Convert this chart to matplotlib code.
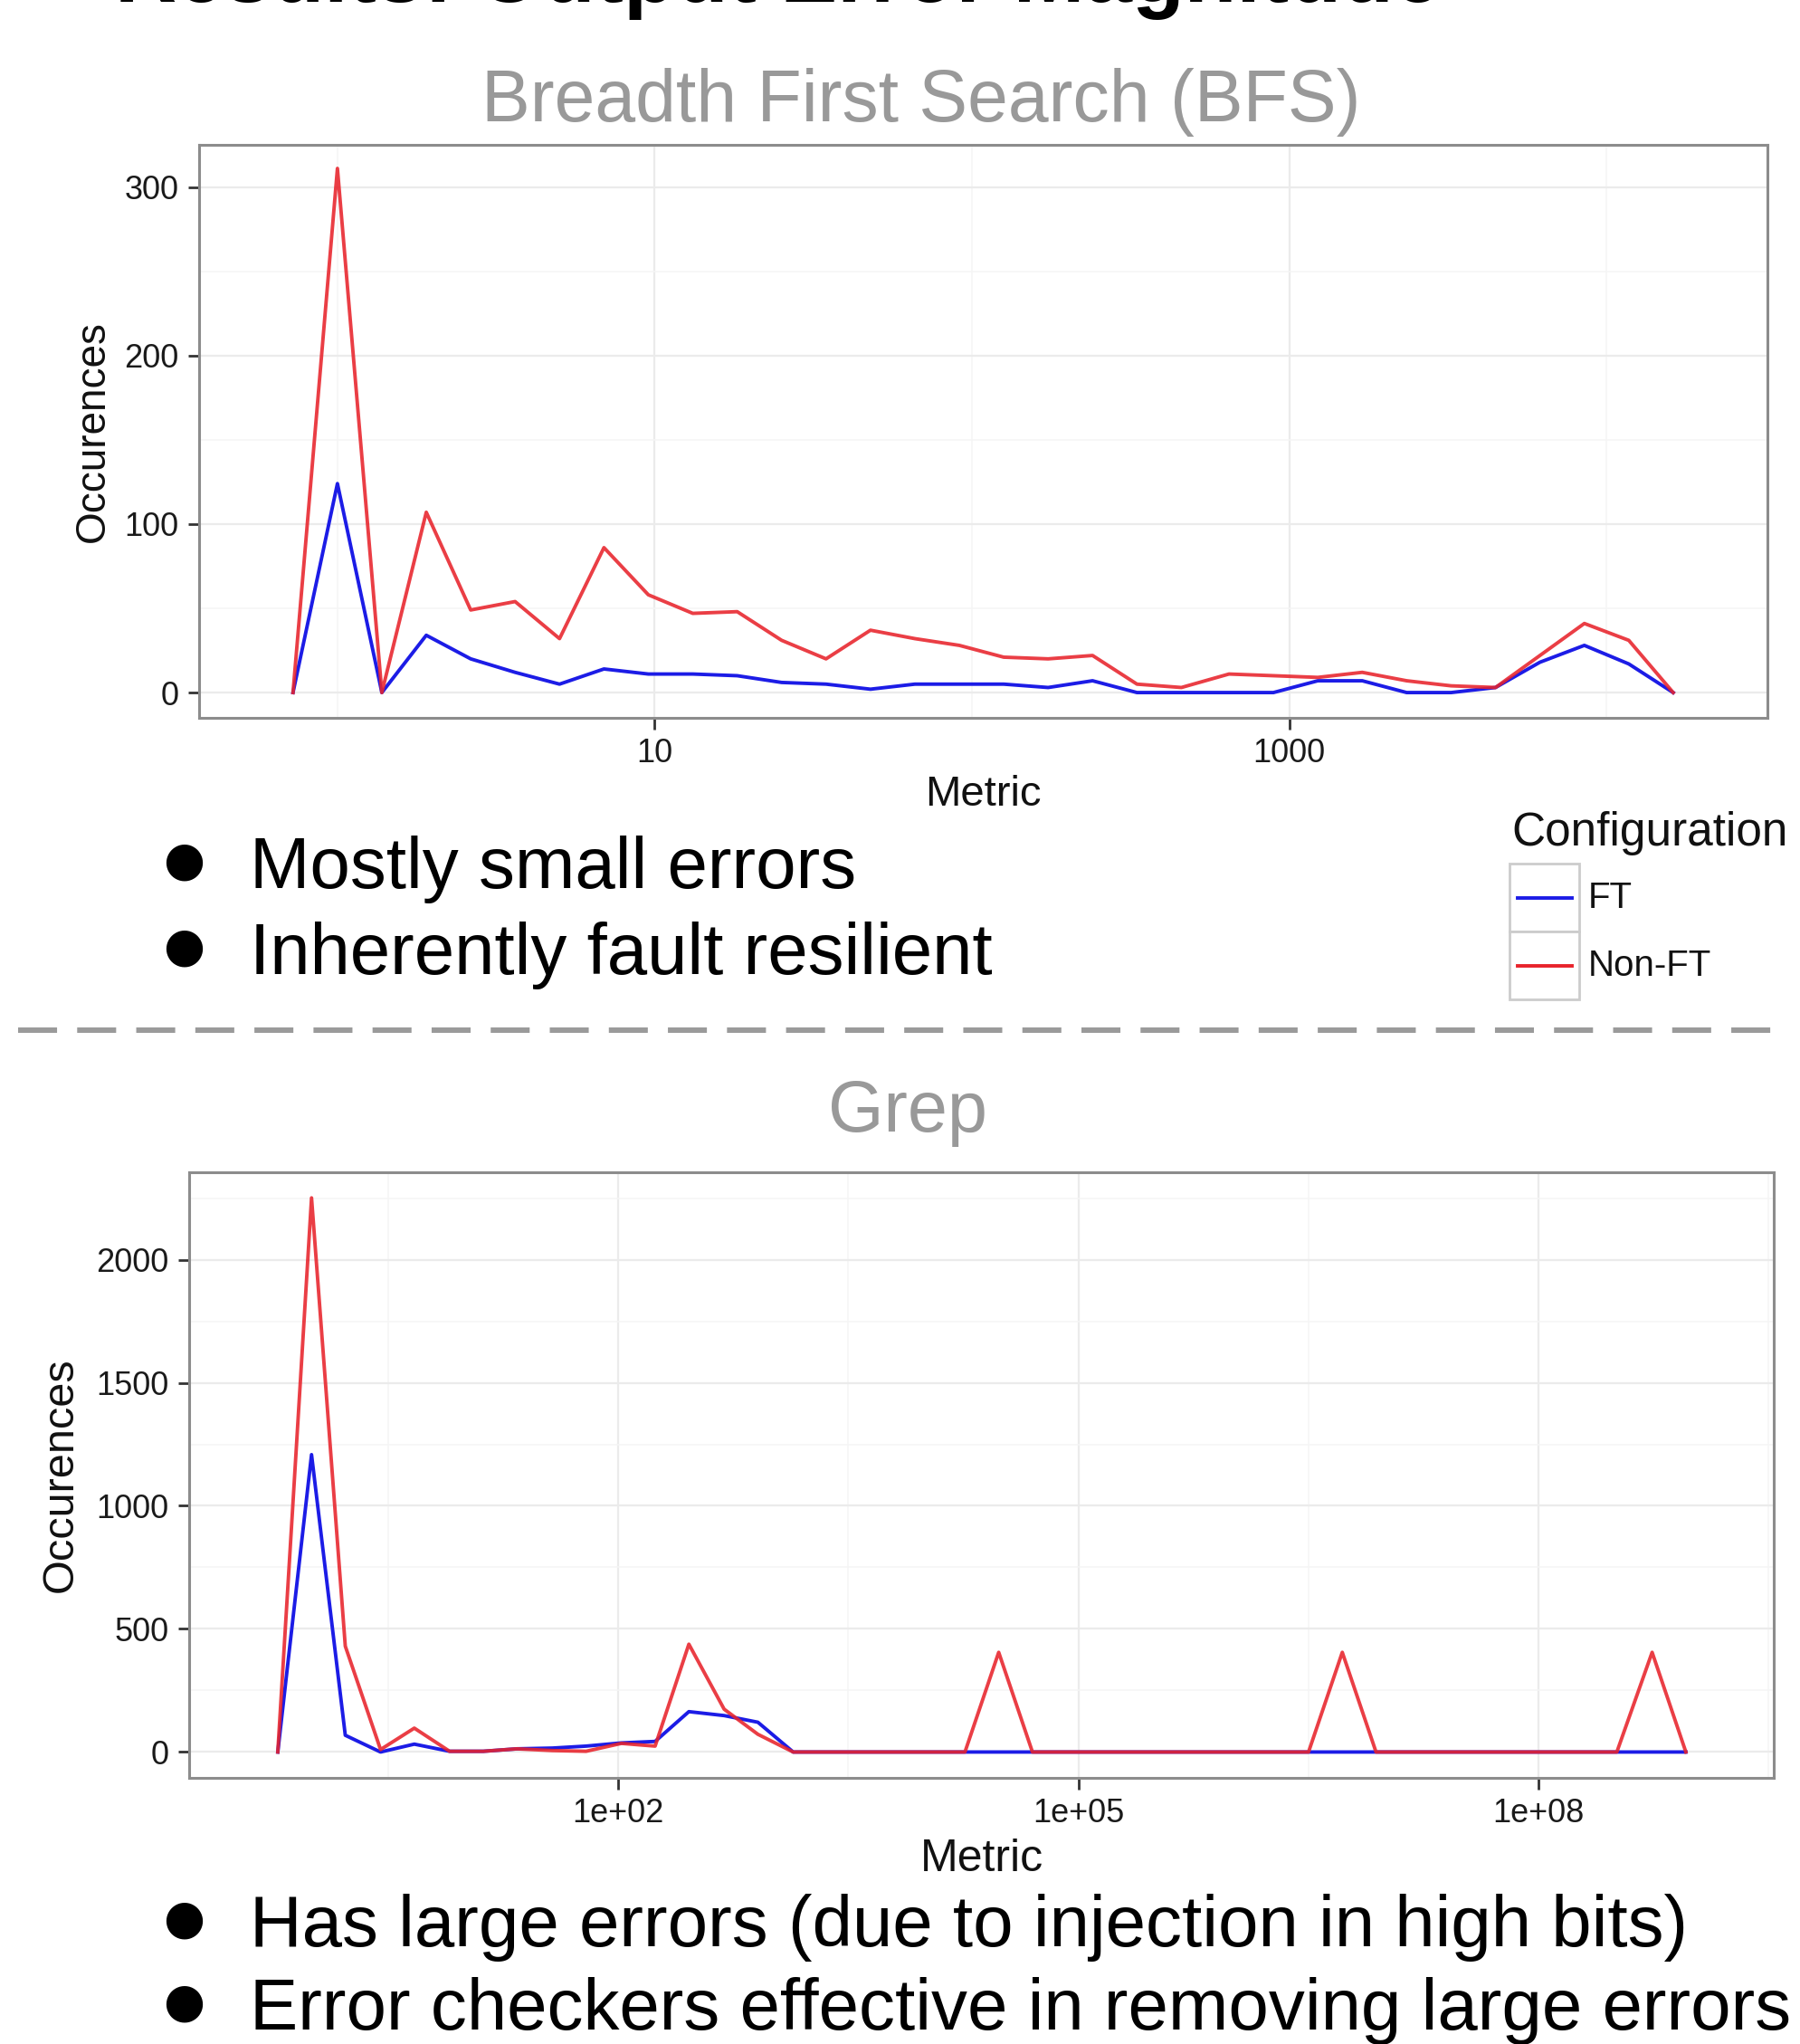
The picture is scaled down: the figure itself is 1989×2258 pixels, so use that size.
import numpy as np
import matplotlib
matplotlib.use("Agg")
import matplotlib.pyplot as plt
from matplotlib.lines import Line2D
from matplotlib.patches import Rectangle
from matplotlib.ticker import NullFormatter

plt.rcParams['font.family'] = ['Liberation Sans', 'DejaVu Sans']
plt.rcParams['lines.scale_dashes'] = False

W, H = 1990, 2258

configurations = ["FT", "Non-FT"]
config_colors = {"FT": "#1c1ce6", "Non-FT": "#e8232b"}

# BFS: bin centres given as log10(metric), occurrences per configuration
bfs_log_metric = [-0.14, 0.00, 0.14, 0.28, 0.42, 0.56, 0.70, 0.84, 0.98, 1.12,
                  1.26, 1.40, 1.54, 1.68, 1.82, 1.96, 2.10, 2.24, 2.38, 2.52,
                  2.66, 2.81, 2.95, 3.09, 3.23, 3.37, 3.51, 3.65, 3.79, 3.93,
                  4.07, 4.21]
bfs_ft = [0, 124, 0, 34, 20, 12, 5, 14, 11, 11, 10, 6, 5, 2, 5, 5,
          5, 3, 7, 0, 0, 0, 0, 7, 7, 0, 0, 3, 18, 28, 17, 0]
bfs_nonft = [0, 311, 0, 107, 49, 54, 32, 86, 58, 47, 48, 31, 20, 37, 32, 28,
             21, 20, 22, 5, 3, 11, 10, 9, 12, 7, 4, 3, 22, 41, 31, 0]

# Grep
grep_log_metric = [-0.22, 0.00, 0.22, 0.45, 0.67, 0.90, 1.12, 1.34, 1.57, 1.79,
                   2.02, 2.24, 2.46, 2.69, 2.91, 3.14, 3.36, 3.58, 3.81, 4.03,
                   4.26, 4.48, 4.70, 4.93, 5.15, 5.38, 5.60, 5.82, 6.05, 6.27,
                   6.50, 6.72, 6.94, 7.17, 7.39, 7.62, 7.84, 8.06, 8.29, 8.51,
                   8.74, 8.96]
grep_ft = [0, 1208, 68, 0, 32, 3, 3, 13, 16, 24, 37, 43, 164, 148, 121, 0,
           0, 0, 0, 0, 0, 0, 0, 0, 0, 0, 0, 0, 0, 0, 0, 0,
           0, 0, 0, 0, 0, 0, 0, 0, 0, 0]
grep_nonft = [0, 2251, 430, 10, 97, 3, 3, 13, 6, 3, 35, 24, 438, 174, 72, 0,
              0, 0, 0, 0, 0, 405, 0, 0, 0, 0, 0, 0, 0, 0, 0, 405,
              0, 0, 0, 0, 0, 0, 0, 0, 405, 0]

bfs_xticks = [10, 1000]
bfs_xticklabels = ["10", "1000"]
bfs_xminor = [1, 100, 10000]
bfs_yticks = [0, 100, 200, 300]
bfs_yminor = [50, 150, 250]

grep_xticks = [1e2, 1e5, 1e8]
grep_xticklabels = ["1e+02", "1e+05", "1e+08"]
grep_xminor = [10 ** 0.5, 10 ** 3.5, 10 ** 6.5, 10 ** 9.5]
grep_yticks = [0, 500, 1000, 1500, 2000]
grep_yminor = [250, 750, 1250, 1750, 2250]

bfs_bullets = ["Mostly small errors", "Inherently fault resilient"]
grep_bullets = ["Has large errors (due to injection in high bits)",
                "Error checkers effective in removing large errors"]


def fx(x):
    return x / W


def fy(y):
    return 1 - y / H


def box(left, top, right, bottom):
    return [fx(left), fy(bottom), (right - left) / W, (bottom - top) / H]


fig = plt.figure(figsize=(W / 100, H / 100), dpi=100)


def panel(rect, log_x, ft, nonft, xlim, xticks, xlabels, xminor,
          yticks, yminor, ylim, ylab_x, lab_size):
    ax = fig.add_axes(rect)
    metric = 10 ** np.array(log_x)
    ax.plot(metric, ft, color=config_colors["FT"], lw=2.8, zorder=3)
    ax.plot(metric, nonft, color=config_colors["Non-FT"], lw=2.8, alpha=0.88, zorder=4)
    ax.set_xscale('log')
    ax.set_xlim(*xlim)
    ax.set_ylim(*ylim)
    ax.set_xticks(xticks)
    ax.set_xticklabels(xlabels)
    ax.set_xticks(xminor, minor=True)
    ax.xaxis.set_minor_formatter(NullFormatter())
    ax.set_yticks(yticks)
    ax.set_yticks(yminor, minor=True)
    ax.grid(which='major', color='#ebebeb', lw=1.6)
    ax.grid(which='minor', color='#f5f5f5', lw=1.1)
    ax.set_axisbelow(True)
    ax.tick_params(which='major', length=9, width=2, color='#333333',
                   labelsize=26, labelcolor='#1a1a1a', pad=7)
    ax.tick_params(which='minor', length=0)
    for s in ax.spines.values():
        s.set_color('#8c8c8c')
        s.set_linewidth(2.2)
    ax.set_ylabel("Occurences", fontsize=lab_size, color='#111111')
    ax.yaxis.label.set_verticalalignment('center')
    ax.yaxis.set_label_coords(ylab_x, 0.5)
    ax.set_xlabel("Metric", fontsize=lab_size + 1, color='#111111')
    ax.xaxis.label.set_verticalalignment('center')
    ax.xaxis.set_label_coords(0.5, -0.135)
    return ax


# slide title, mostly above the top edge (only its lower rim shows)
fig.text(fx(127), fy(22), "Results: Output Error Magnitude", fontsize=68,
         fontweight='bold', color='black', ha='left', va='bottom')

# BFS section
fig.text(fx(1018), fy(134), "Breadth First Search (BFS)", fontsize=58,
         color='#999999', ha='center', va='baseline')
panel(box(220, 160, 1953, 793), bfs_log_metric, bfs_ft, bfs_nonft,
      (10 ** -0.436, 10 ** 4.507), bfs_xticks, bfs_xticklabels, bfs_xminor,
      bfs_yticks, bfs_yminor, (-15, 325), (103 - 220) / 1733, 33)

for text, base in zip(bfs_bullets, [981, 1076]):
    fig.text(fx(203), fy(base - 29), "\u25cf", fontsize=38, family='DejaVu Sans',
             ha='center', va='center')
    fig.text(fx(276), fy(base), text, fontsize=57.5, ha='left', va='baseline')

# legend
fig.text(fx(1670), fy(934), "Configuration", fontsize=37, ha='left',
         va='baseline', color='#111111')
for i, name in enumerate(configurations):
    top = 954 + i * 75
    fig.patches.append(Rectangle((fx(1668), fy(top + 75)), 77 / W, 75 / H,
                                 transform=fig.transFigure, facecolor='white',
                                 edgecolor='#cccccc', lw=2))
    yc = top + 38
    fig.lines.append(Line2D([fx(1677), fx(1737)], [fy(yc), fy(yc)],
                            transform=fig.transFigure,
                            color=config_colors[name], lw=2.8))
    fig.text(fx(1755), fy(yc), name, fontsize=29, ha='left', va='center',
             color='#111111')

# separator
fig.lines.append(Line2D([fx(20), fx(1961)], [fy(1138), fy(1138)],
                        transform=fig.transFigure, color='#9a9a9a', lw=4.3,
                        dashes=(31, 16)))

# Grep section
fig.text(fx(1003), fy(1250), "Grep", fontsize=57, color='#999999',
         ha='center', va='baseline')
panel(box(209, 1295, 1960, 1964), grep_log_metric, grep_ft, grep_nonft,
      (10 ** -0.798, 10 ** 9.533), grep_xticks, grep_xticklabels, grep_xminor,
      grep_yticks, grep_yminor, (-105, 2355), (67 - 209) / 1751, 35)

for text, base in zip(grep_bullets, [2150, 2242]):
    fig.text(fx(203), fy(base - 29), "\u25cf", fontsize=38, family='DejaVu Sans',
             ha='center', va='center')
    fig.text(fx(276), fy(base), text, fontsize=57.5, ha='left', va='baseline')

fig.savefig("out.png", dpi=100, facecolor='white')
